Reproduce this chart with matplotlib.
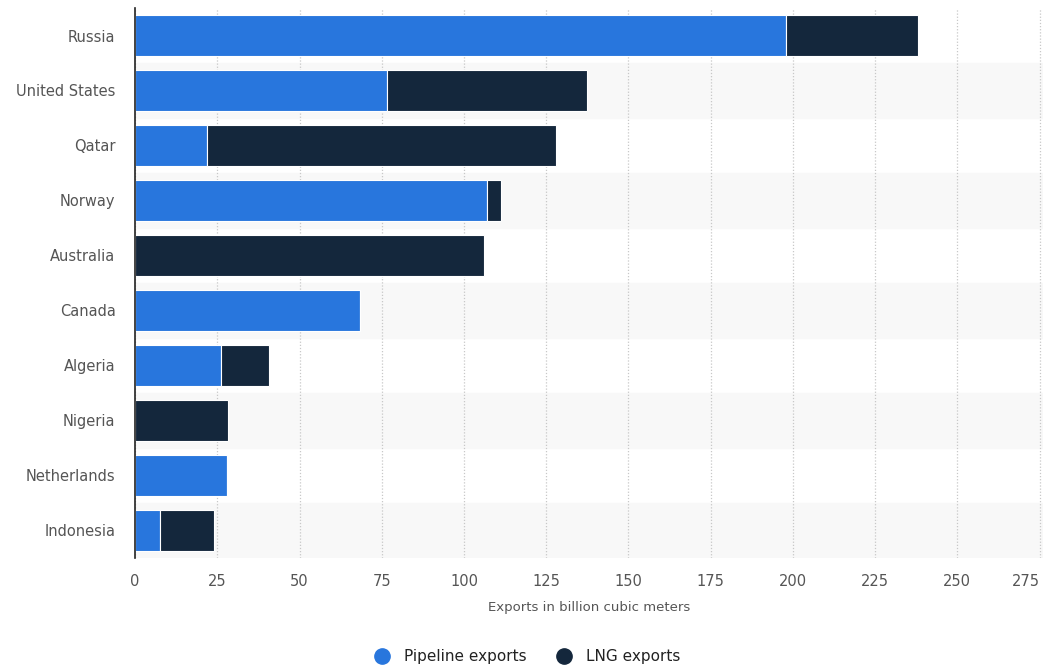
import matplotlib.pyplot as plt
import numpy as np
from matplotlib.lines import Line2D

countries = ["Russia", "United States", "Qatar", "Norway", "Australia",
             "Canada", "Algeria", "Nigeria", "Netherlands", "Indonesia"]
pipeline = [197.8, 76.5, 21.9, 107.1, 0.0, 68.3, 26.1, 0.0, 27.9, 7.6]
lng = [40.3, 60.8, 106.0, 4.1, 106.0, 0.0, 14.6, 28.3, 0.0, 16.4]

blue = '#2876dd'
navy = '#14273c'

fig = plt.figure(figsize=(10.47, 6.68), dpi=100)
ax = fig.add_axes([0.129, 0.165, 0.867, 0.823])

y = np.arange(len(countries))
# alternating row bands
for i in y:
    if i % 2 == 1:
        ax.axhspan(i - 0.5, i + 0.5, color='#f8f8f8', zorder=0)

ax.barh(y, pipeline, height=0.75, color=blue, edgecolor='white', linewidth=0.8, zorder=3)
ax.barh(y, lng, left=pipeline, height=0.75, color=navy, edgecolor='white', linewidth=0.8, zorder=3)

ax.set_ylim(len(countries) - 0.5, -0.5)
ax.set_xlim(0, 276)
ax.set_yticks(y)
ax.set_yticklabels(countries)
ax.set_xticks(np.arange(0, 276, 25))
ax.tick_params(axis='both', length=0, colors='#555555', labelsize=10.5)
ax.tick_params(axis='y', pad=14)
ax.tick_params(axis='x', pad=12)
ax.get_xticklabels()[-1].set_horizontalalignment('right')
ax.xaxis.grid(True, linestyle=(0, (1, 1.5)), color='#c8c8c8', linewidth=0.9, zorder=1)
ax.set_axisbelow(True)
for s in ['top', 'right', 'bottom']:
    ax.spines[s].set_visible(False)
ax.spines['left'].set_color('#222222')
ax.spines['left'].set_linewidth(1.2)
ax.spines['left'].set_zorder(5)

ax.set_xlabel("Exports in billion cubic meters", color='#555555', fontsize=9.5, labelpad=8)

handles = [Line2D([], [], marker='o', linestyle='', markersize=11, color=blue),
           Line2D([], [], marker='o', linestyle='', markersize=11, color=navy)]
fig.legend(handles, ["Pipeline exports", "LNG exports"], loc='center',
           bbox_to_anchor=(0.5, 0.017), ncol=2, frameon=False, fontsize=11,
           handletextpad=0.4, columnspacing=1.5, labelcolor='#222222')

fig.savefig('out.png', dpi=100)
